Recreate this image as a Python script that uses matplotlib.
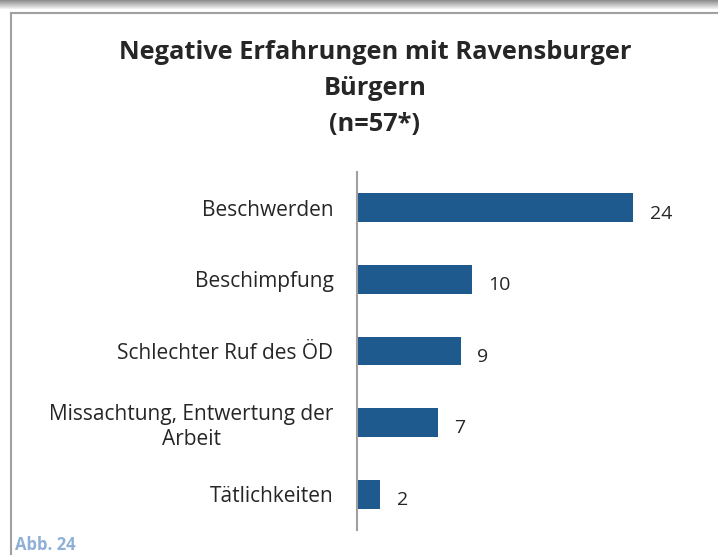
import numpy as np
import matplotlib
matplotlib.use("Agg")
from matplotlib import pyplot as plt
from matplotlib.lines import Line2D

# chart data
categories = ["Beschwerden", "Beschimpfung", "Schlechter Ruf des ÖD",
              "Missachtung, Entwertung der\nArbeit", "Tätlichkeiten"]
values = [24, 10, 9, 7, 2]
title = "Negative Erfahrungen mit Ravensburger\nBürgern\n(n=57*)"
caption = "Abb. 24"

BAR_COLOR = "#1f5a8f"
TEXT_COLOR = "#262626"
plt.rcParams['font.family'] = ['Open Sans', 'DejaVu Sans']

fig = plt.figure(figsize=(7.18, 5.55), dpi=100)
W, H = 718, 555

# gray shadow band at the very top
grad = np.linspace(0.55, 0.95, 20).reshape(-1, 1)
ax_bg = fig.add_axes([0, 1 - 9 / H, 1, 9 / H])
ax_bg.imshow(grad, cmap="gray", vmin=0, vmax=1, aspect="auto")
ax_bg.axis("off")

# frame of the chart box
fig.add_artist(Line2D([11 / W, 11 / W], [0, 1 - 13 / H], color="#a0a0a0", lw=1.5))
fig.add_artist(Line2D([11 / W, 1], [1 - 13 / H, 1 - 13 / H], color="#a0a0a0", lw=1.5))

# plot area: y axis line at x=357, from y=172 to y=530
left, right = 357, 702
top, bottom = 172, 530
ax = fig.add_axes([left / W, 1 - bottom / H, (right - left) / W, (bottom - top) / H])

y = np.arange(len(categories))
ax.barh(y, values, height=0.4, color=BAR_COLOR)
ax.set_xlim(0, 30)
ax.set_ylim(len(categories) - 0.5, -0.5)

for yi, v in zip(y, values):
    ax.text(v + 1.45, yi + 0.08, str(v), va="center", ha="left", fontsize=14, color=TEXT_COLOR)

ax.set_yticks(y)
ax.set_yticklabels(categories, fontsize=15, color=TEXT_COLOR, ha="right",
                   multialignment="center", linespacing=1.25)
ax.tick_params(axis="y", length=0, pad=17)
ax.set_xticks([])
for s in ["top", "right", "bottom"]:
    ax.spines[s].set_visible(False)
ax.spines["left"].set_color("#a0a0a0")
ax.spines["left"].set_linewidth(1.5)

fig.text(375 / W, 1 - 40 / H, title, ha="center", va="top", fontsize=18.3,
         fontweight="bold", color=TEXT_COLOR, linespacing=1.58)
fig.text(15 / W, 1 - 545 / H, caption, ha="left", va="center", fontsize=12,
         fontweight="bold", color="#8fb0d6")

fig.savefig("out.png", dpi=100)
plt.close(fig)
